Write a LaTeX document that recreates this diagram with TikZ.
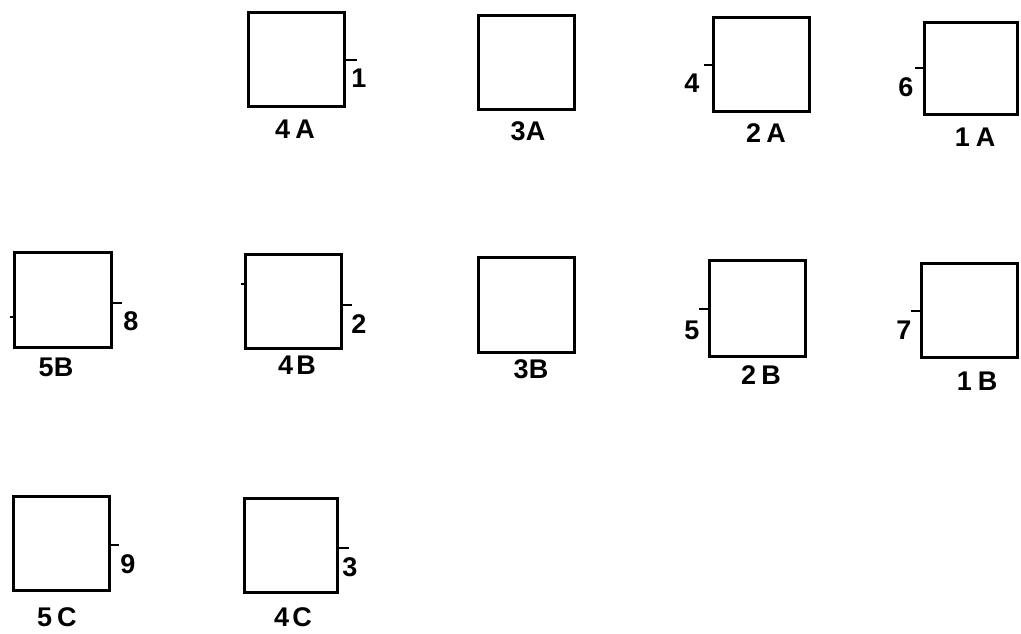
\documentclass[tikz,border=0pt]{standalone}
\usepackage{fontspec}
\setmainfont{Liberation Sans}
\begin{document}
\begin{tikzpicture}[x=1pt,y=-1pt,
  sq/.style={draw, line width=3pt, inner sep=0pt, minimum width=96pt, minimum height=94pt},
  tk/.style={line width=2.8pt},
  stray/.style={line width=1.5pt},
  num/.style={inner sep=0pt, font=\fontsize{27}{27}\selectfont\bfseries},
  pair/.style={inner sep=0pt, font=\fontsize{27}{27}\selectfont\bfseries}]
\useasboundingbox (0,0) rectangle (1021,634);
% row A
\node[sq] (b4A) at (296,60) {};
\node[sq] (b3A) at (526,63) {};
\node[sq] (b2A) at (761,65) {};
\node[sq, minimum width=93pt, minimum height=92pt] (b1A) at (971,69) {};
% row B
\node[sq, minimum width=97pt, minimum height=95pt] (b5B) at (62.5,299.5) {};
\node[sq] (b4B) at (293,301) {};
\node[sq, minimum height=95pt] (b3B) at (526,304.5) {};
\node[sq, minimum height=96pt] (b2B) at (757,308) {};
\node[sq] (b1B) at (969,310) {};
% row C
\node[sq] (b5C) at (61,543) {};
\node[sq, minimum width=93pt] (b4C) at (290.5,545) {};
% ticks
\draw[tk] (b4A.east |- 0,60) -- ++(11,0);
\draw[tk] (b2A.west |- 0,65) -- ++(-8,0);
\draw[tk] (b1A.west |- 0,68) -- ++(-8,0);
\draw[tk] (b5B.east |- 0,303) -- ++(9,0);
\draw[tk] (b4B.east |- 0,305) -- ++(9,0);
\draw[tk] (b2B.west |- 0,309) -- ++(-9,0);
\draw[tk] (b1B.west |- 0,311) -- ++(-9,0);
\draw[tk] (b5C.east |- 0,545) -- ++(8,0);
\draw[tk] (b4C.east |- 0,548) -- ++(10,0);
% small stray marks
\draw[stray] (b5B.west |- 0,317) -- ++(-3,0);
\draw[stray] (b4B.west |- 0,284) -- ++(-3,0);
% numbers
\node[num] (n1) at (359,78) {1};
\node[num] (n4) at (692,83) {4};
\node[num] (n6) at (906,87) {6};
\node[num] (n8) at (131,321) {8};
\node[num] (n2) at (359,324) {2};
\node[num] (n5) at (692,330) {5};
\node[num] (n7) at (904,330) {7};
\node[num] (n9) at (128,564) {9};
\node[num] (n3) at (350,567) {3};
% box labels
\node[pair] (l4A) at (295,129) {4\kern5pt A};
\node[pair] (l3A) at (528,131) {3A};
\node[pair] (l2A) at (766,133) {2\kern5pt A};
\node[pair] (l1A) at (975,137) {1\kern6pt A};
\node[pair] (l5B) at (56,367) {5B};
\node[pair] (l4B) at (297,365) {4\kern3pt B};
\node[pair] (l3B) at (531,369) {3B};
\node[pair] (l2B) at (761,375) {2\kern5pt B};
\node[pair] (l1B) at (977,381) {1\kern6pt B};
\node[pair] (l5C) at (57,617) {5\kern5pt C};
\node[pair] (l4C) at (293,617) {4\kern3pt C};
\end{tikzpicture}
\end{document}
